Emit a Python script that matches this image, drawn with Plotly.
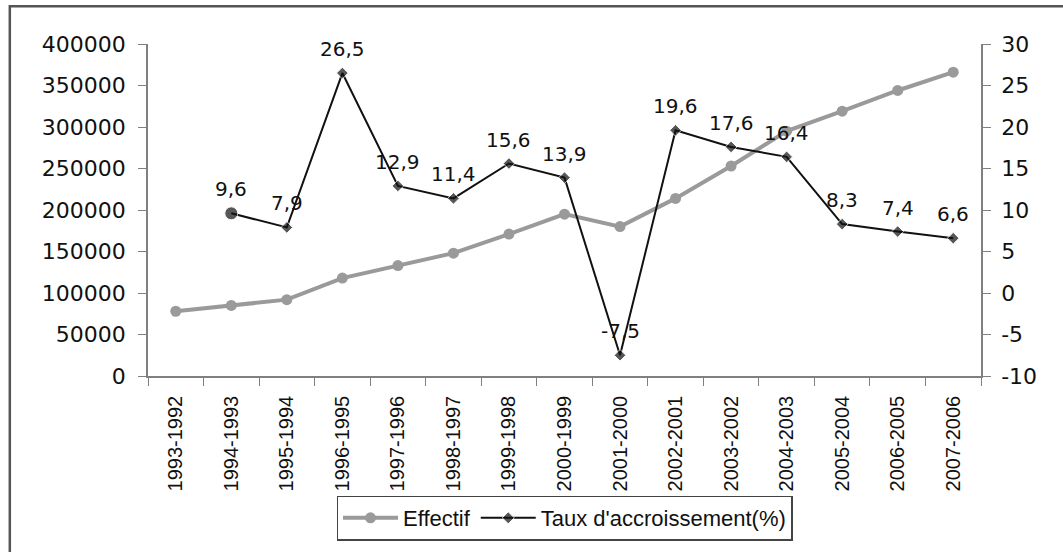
import plotly.graph_objects as go

categories = ["1993-1992", "1994-1993", "1995-1994", "1996-1995", "1997-1996",
              "1998-1997", "1999-1998", "2000-1999", "2001-2000", "2002-2001",
              "2003-2002", "2004-2003", "2005-2004", "2006-2005", "2007-2006"]
effectif = [78000, 85000, 92000, 118000, 133000, 148000, 171000, 195000,
            180000, 214000, 253000, 295000, 319000, 344000, 366000]
taux = [None, 9.6, 7.9, 26.5, 12.9, 11.4, 15.6, 13.9, -7.5, 19.6, 17.6, 16.4, 8.3, 7.4, 6.6]
taux_labels = ["" if v is None else f"{v}".replace(".", ",") for v in taux]
left_ticks = [0, 50000, 100000, 150000, 200000, 250000, 300000, 350000, 400000]
right_ticks = [-10, -5, 0, 5, 10, 15, 20, 25, 30]

wide_font = "DejaVu Sans, Verdana, sans-serif"
arial_font = "Liberation Sans, Arial, sans-serif"

fig = go.Figure()
fig.add_trace(go.Scatter(
    x=categories, y=effectif, name="Effectif", mode="lines+markers",
    line=dict(color="#9a9a9a", width=4),
    marker=dict(symbol="circle", size=11, color="#9a9a9a"),
    yaxis="y",
))
symbols = ["circle" if i == 1 else "diamond" for i in range(len(categories))]
sizes = [13 if i == 1 else 9 for i in range(len(categories))]
fig.add_trace(go.Scatter(
    x=categories, y=taux, name="Taux d'accroissement(%)", mode="lines+markers",
    line=dict(color="#111", width=2),
    marker=dict(symbol=symbols, size=sizes, color="#111"),
    yaxis="y2",
))

annotations = []
for cat, v, lab in zip(categories, taux, taux_labels):
    if v is None:
        continue
    annotations.append(dict(x=cat, y=v, xref="x", yref="y2", text=lab, showarrow=False,
                            yanchor="middle", yshift=24,
                            font=dict(size=20, color="#111", family=wide_font)))

axis_col = "#808080"
fig.update_layout(
    width=1063, height=552,
    margin=dict(l=148, r=82, t=44, b=170),
    paper_bgcolor="white", plot_bgcolor="white",
    font=dict(family=wide_font, size=18, color="#111"),
    showlegend=True,
    legend=dict(orientation="h", x=0.5, xanchor="center", y=-0.36, yanchor="top",
                bordercolor="#444", borderwidth=1.5, bgcolor="white",
                font=dict(family=arial_font, size=22),
                itemwidth=55),
    xaxis=dict(type="category", categoryorder="array", categoryarray=categories,
               tickangle=-90, showgrid=False, showline=True, linecolor=axis_col, linewidth=1.5,
               ticks="outside", ticklen=8, tickcolor=axis_col, tickson="boundaries",
               ticklabelstandoff=10, automargin=False,
               tickfont=dict(size=20, family=arial_font), range=[-0.5, 14.5], zeroline=False),
    yaxis=dict(range=[0, 400000], tickvals=left_ticks, ticktext=[str(v) for v in left_ticks],
               showgrid=False, showline=True, linecolor=axis_col, linewidth=1.5,
               ticks="outside", ticklen=8, tickcolor=axis_col, zeroline=False, automargin=False,
               ticklabelstandoff=8, tickfont=dict(size=22, family=wide_font)),
    yaxis2=dict(range=[-10, 30], tickvals=right_ticks, ticktext=[str(v) for v in right_ticks],
                overlaying="y", side="right", showgrid=False, showline=True,
                linecolor=axis_col, linewidth=1.5, ticks="outside", ticklen=8,
                ticklabelstandoff=6, automargin=False,
                tickcolor=axis_col, zeroline=False, tickfont=dict(size=22, family=wide_font)),
    annotations=annotations,
    shapes=[dict(type="rect", xref="paper", yref="paper", x0=-0.1659, y0=-1.0,
                 x1=1.3, y1=1.1134, line=dict(color="#555", width=2.5), layer="below")],
)

fig.write_html("out.html", config={"displayModeBar": False},
               post_script="document.body.style.margin='0px';")
